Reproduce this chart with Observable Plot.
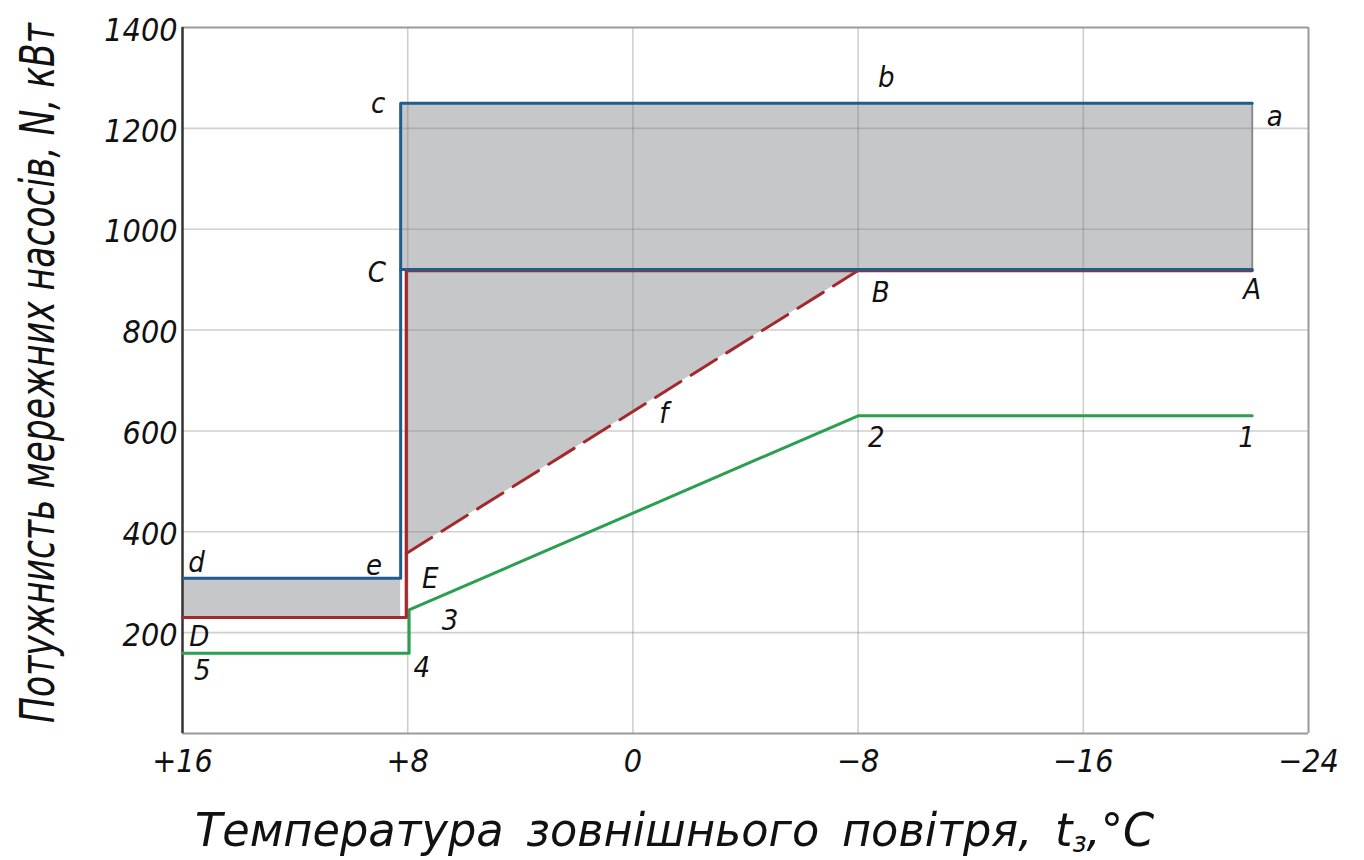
<!DOCTYPE html>
<html>
<head>
<meta charset="utf-8">
<script src="https://cdn.jsdelivr.net/npm/d3@7"></script>
<script src="https://cdn.jsdelivr.net/npm/@observablehq/plot@0.6"></script>
<style>
  html, body { margin: 0; padding: 0; background: #fff; }
  #chart svg { display: block; }
</style>
</head>
<body>
<div id="chart"></div>
<script>
// ---- data (temperature °C, power kW) ----
const xTicks = [16, 8, 0, -8, -16, -24];
const yTicks = [200, 400, 600, 800, 1000, 1200, 1400];

// blue line d-e-c-a
const blueT = [16, 8.25, 8.25, -22];
const blueN = [308, 308, 1250, 1250];
// blue line C-A
const blueCAT = [8.25, -22];
const blueCAN = [918, 918];
// red line D-E-C-A
const redT = [16, 8.05, 8.05, -22];
const redN = [230, 230, 918, 918];
// red dashed E-f-B
const redDashT = [8.05, -8];
const redDashN = [357, 918];
// green line 5-4-3-2-1
const greenT = [16, 7.95, 7.95, -8, -22];
const greenN = [159, 159, 245, 630, 630];

// shaded zones
const zoneLowT = [16, 8.25];
const zoneLowN1 = [230, 230];
const zoneLowN2 = [308, 308];
const zoneTopT = [8.25, -22];
const zoneTopN1 = [918, 918];
const zoneTopN2 = [1250, 1250];
const zoneTriT = [8.05, -8];
const zoneTriN1 = [357, 918];
const zoneTriN2 = [918, 918];

// point labels
const labelText = ["b", "c", "a", "C", "B", "A", "f", "2", "1", "d", "e", "E", "3", "D", "5", "4"];
const labelT = [-9.0, 9.05, -22.8, 9.1, -8.8, -22.0, -1.1, -8.65, -21.8, 15.5, 9.2, 7.2, 6.5, 15.4, 15.3, 7.5];
const labelN = [1300, 1249, 1223, 914, 874, 880, 634, 587, 587, 339, 333, 307, 224, 192, 125, 131];

const pts = (ts, ns) => ts.map((t, i) => ({t, n: ns[i]}));
const band = (ts, a, b) => ts.map((t, i) => ({t, n1: a[i], n2: b[i]}));
const labels = labelText.map((s, i) => ({s, t: labelT[i], n: labelN[i]}));

const FONT = "'DejaVu Sans Condensed', 'Liberation Sans Narrow', 'DejaVu Sans', sans-serif";
const BLUE = "#215d8c", RED = "#a4282c", GREEN = "#2a9f50", FILL = "#c6c7c9";
const fmtX = d => d > 0 ? "+" + d : d < 0 ? "\u2212" + (-d) : "0";

const plot = Plot.plot({
  width: 1364,
  height: 860,
  marginLeft: 182,
  marginRight: 56,
  marginTop: 27,
  marginBottom: 127,
  style: {fontFamily: FONT, fontStyle: "italic", fontSize: "32px", color: "#111", background: "#fff"},
  x: {domain: [16, -24]},
  y: {domain: [0, 1400]},
  marks: [
    Plot.areaY(band(zoneLowT, zoneLowN1, zoneLowN2), {x: "t", y1: "n1", y2: "n2", fill: FILL}),
    Plot.areaY(band(zoneTopT, zoneTopN1, zoneTopN2), {x: "t", y1: "n1", y2: "n2", fill: FILL}),
    Plot.areaY(band(zoneTriT, zoneTriN1, zoneTriN2), {x: "t", y1: "n1", y2: "n2", fill: FILL}),
    Plot.ruleX([-22], {y1: 918, y2: 1250, stroke: "#8a8a8a", strokeWidth: 2}),
    Plot.gridX({ticks: [8, 0, -8, -16], stroke: "#808080", strokeOpacity: 0.38, strokeWidth: 1.6}),
    Plot.gridY({ticks: [200, 400, 600, 800, 1000, 1200], stroke: "#808080", strokeOpacity: 0.38, strokeWidth: 1.6}),
    Plot.ruleY([1400], {stroke: "#9a9a9a", strokeWidth: 2}),
    Plot.ruleX([-24], {stroke: "#9a9a9a", strokeWidth: 2}),
    Plot.ruleY([0], {stroke: "#9a9a9a", strokeWidth: 2}),
    Plot.ruleX([16], {stroke: "#333", strokeWidth: 2.5}),
    Plot.line(pts(greenT, greenN), {x: "t", y: "n", stroke: GREEN, strokeWidth: 3}),
    Plot.line(pts(redDashT, redDashN), {x: "t", y: "n", stroke: RED, strokeWidth: 3, strokeDasharray: "30,12"}),
    Plot.line(pts(redT, redN), {x: "t", y: "n", stroke: RED, strokeWidth: 3.2}),
    Plot.line(pts(blueCAT, blueCAN), {x: "t", y: "n", stroke: BLUE, strokeWidth: 3, dy: -1}),
    Plot.line(pts(blueT, blueN), {x: "t", y: "n", stroke: BLUE, strokeWidth: 3}),
    Plot.axisX({ticks: xTicks, tickFormat: fmtX, tickSize: 0, tickPadding: 16, label: null, fontSize: 32}),
    Plot.axisY({ticks: yTicks, tickFormat: d => String(d), tickSize: 0, tickPadding: 5, dy: 3, label: null, fontSize: 32, letterSpacing: "3px"}),
    Plot.text(labels, {x: "t", y: "n", text: "s", fontSize: 29, fontStyle: "italic", fill: "#111"})
  ]
});

document.getElementById("chart").appendChild(plot);

const svg = d3.select(plot);

// y axis title
const yg = svg.append("g");
const yt = yg.append("text")
  .attr("text-anchor", "middle")
  .attr("dominant-baseline", "central")
  .attr("font-family", FONT)
  .attr("font-style", "italic")
  .attr("font-size", 48)
  .attr("fill", "#111")
  .text("Потужнисть мережних насосів, N, кВт");
const yw = yt.node().getComputedTextLength();
const ys = yw > 0 ? 700 / yw : 1;
yg.attr("transform", `translate(37,373) rotate(-90) scale(${ys},1)`);

// x axis title
const xg = svg.append("g");
const xt = xg.append("text")
  .attr("x", 0)
  .attr("y", 0)
  .attr("text-anchor", "start")
  .attr("font-family", FONT)
  .attr("font-style", "italic")
  .attr("font-size", 47)
  .attr("fill", "#111")
  .attr("word-spacing", "8px");
xt.append("tspan").text("Температура зовнішнього повітря, t");
xt.append("tspan").attr("font-size", 28).attr("dy", 6).text("з");
xt.append("tspan").attr("dy", -6).text(",°C");
const bw = xt.node().getBBox().width;
const xs = bw > 0 ? 960 / bw : 1;
xg.attr("transform", `translate(195,846) scale(${xs},1)`);
</script>
</body>
</html>
